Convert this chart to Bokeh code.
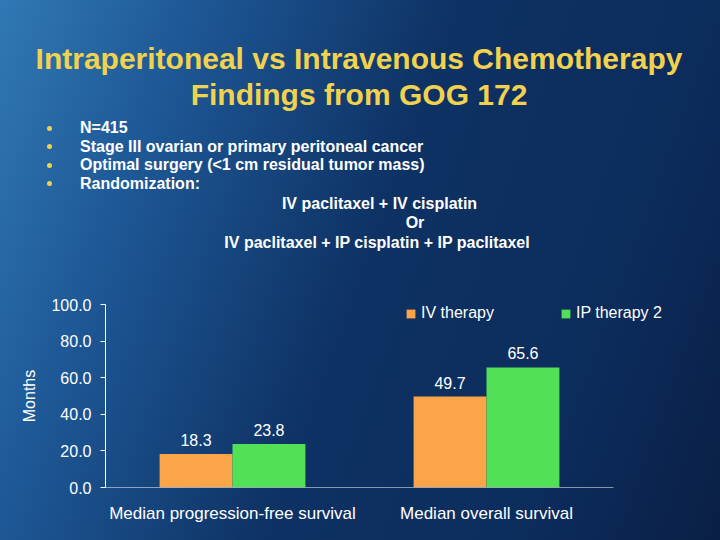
import html as _html
from bokeh.plotting import figure
from bokeh.layouts import column
from bokeh.models import (ColumnDataSource, Range1d, FixedTicker, PrintfTickFormatter,
                          Legend, LegendItem, LabelSet, Div)
from bokeh.core.properties import value
from bokeh.embed import file_html
from bokeh.resources import INLINE

# ---- data ----
categories = ["Median progression-free survival", "Median overall survival"]
iv_values = [18.3, 49.7]
ip_values = [23.8, 65.6]
series_names = ["IV therapy", "IP therapy 2"]
y_ticks = [0, 20, 40, 60, 80, 100]

title_lines = ["Intraperitoneal vs Intravenous Chemotherapy", "Findings from GOG 172"]
bullets = ["N=415",
           "Stage III ovarian or primary peritoneal cancer",
           "Optimal surgery (<1 cm residual tumor mass)",
           "Randomization:"]
arms = ["IV paclitaxel + IV cisplatin", "Or", "IV paclitaxel + IP cisplatin + IP paclitaxel"]

# ---- styling ----
W = 720
HEAD_H = 288
FIG_H = 252
ML, MR, MT, MB = 105, 38, 16, 53
CAT_PX = 254  # pixel width of one category slot
FONT = "Liberation Sans"
CSSFONT = "'Liberation Sans', Arial, sans-serif"
ORANGE = "#fba448"
GREEN = "#52e156"
YELLOW = "#f1d24e"
GRAD = ("linear-gradient(110deg, #3079b4 0%, #1e5896 21%, #0e3264 50%, "
        "#0c2c5c 79%, #0a1f45 100%)")

# ---- header (title + bullets) as HTML text ----
def span(text, x, baseline, size, color, weight="bold", align="left"):
    top = baseline - 0.8465 * size
    tr = "transform:translateX(-50%);" if align == "center" else ""
    return (f'<span style="position:absolute;left:{x}px;top:{top:.1f}px;{tr}white-space:nowrap;'
            f'font-family:{CSSFONT};font-size:{size}px;line-height:{size}px;font-weight:{weight};'
            f'color:{color};">{_html.escape(text)}</span>')


parts = []
for t, yb in zip(title_lines, [69, 105]):
    parts.append(span(t, 359, yb, 30, YELLOW, align="center"))
for i, t in enumerate(bullets):
    yb = 133.5 + 18.5 * i
    parts.append(f'<span style="position:absolute;left:46.5px;top:{yb - 8:.1f}px;width:5px;height:5px;'
                 f'border-radius:50%;background:{YELLOW};"></span>')
    parts.append(span(t, 80, yb, 16, "white"))
for t, xc, yb in zip(arms, [379.5, 415, 377], [209.5, 228.5, 248.5]):
    parts.append(span(t, xc, yb, 16, "white", align="center"))

header = Div(text=f'<div style="position:relative;width:{W}px;height:{HEAD_H}px;">' + "".join(parts) + "</div>",
             width=W, height=HEAD_H, margin=0)

# ---- chart ----
n = len(categories)
bw = 0.287
centers = [i + 0.5 for i in range(n)]
src = ColumnDataSource(dict(
    xc=centers,
    x_iv=[c - bw / 2 for c in centers], x_ip=[c + bw / 2 for c in centers],
    iv=iv_values, ip=ip_values,
    iv_txt=[f"{v:.1f}" for v in iv_values],
    ip_txt=[f"{v:.1f}" for v in ip_values],
))

frame_w = W - ML - MR
p = figure(width=W, height=FIG_H, output_backend="svg", toolbar_location=None,
           x_range=Range1d(0, frame_w / CAT_PX), y_range=Range1d(0, 100),
           min_border_left=ML, min_border_right=MR, min_border_top=MT, min_border_bottom=MB,
           margin=0)
p.border_fill_color = None
p.background_fill_color = None
p.outline_line_color = None
p.grid.visible = False

r_iv = p.vbar(x="x_iv", top="iv", width=bw, source=src, fill_color=ORANGE, line_color=None)
r_ip = p.vbar(x="x_ip", top="ip", width=bw, source=src, fill_color=GREEN, line_color=None)

for xf, field, txt in (("x_iv", "iv", "iv_txt"), ("x_ip", "ip", "ip_txt")):
    p.add_layout(LabelSet(x=xf, y=field, text=txt, source=src, y_offset=8,
                          text_align="center", text_baseline="bottom",
                          text_color="white", text_font=value(FONT), text_font_size="16px"))

# x axis baseline spanning the category slots only
p.segment(x0=0, x1=n, y0=0, y1=0, line_color="white", line_width=1)

xa = p.xaxis[0]
xa.ticker = FixedTicker(ticks=centers)
xa.major_label_overrides = {c: cat for c, cat in zip(centers, categories)}
xa.axis_line_color = None
xa.major_tick_line_color = None
xa.minor_tick_line_color = None
xa.major_label_text_color = "white"
xa.major_label_text_font = FONT
xa.major_label_text_font_size = "17px"
xa.major_label_standoff = 10

ya = p.yaxis[0]
ya.ticker = FixedTicker(ticks=y_ticks)
ya.formatter = PrintfTickFormatter(format="%.1f")
ya.axis_line_color = "white"
ya.major_tick_line_color = "white"
ya.major_tick_in = 0
ya.major_tick_out = 5
ya.minor_tick_line_color = None
ya.major_label_text_color = "white"
ya.major_label_text_font = FONT
ya.major_label_text_font_size = "16px"
ya.major_label_standoff = 9
ya.axis_label = "Months"
ya.axis_label_text_color = "white"
ya.axis_label_text_font = FONT
ya.axis_label_text_font_style = "normal"
ya.axis_label_text_font_size = "16px"
ya.axis_label_standoff = 10

legend = Legend(items=[LegendItem(label=series_names[0], renderers=[r_iv]),
                       LegendItem(label=series_names[1], renderers=[r_ip])],
                orientation="horizontal", location=(300, 165),
                glyph_width=11, glyph_height=11, label_standoff=5, spacing=66,
                padding=0, margin=0, background_fill_alpha=0, border_line_color=None,
                label_text_color="white", label_text_font=FONT, label_text_font_size="16px")
p.add_layout(legend)

page = column(header, p, spacing=0, width=W, height=HEAD_H + FIG_H,
              styles={"background": GRAD})

open("out.html", "w").write(file_html(page, INLINE))
